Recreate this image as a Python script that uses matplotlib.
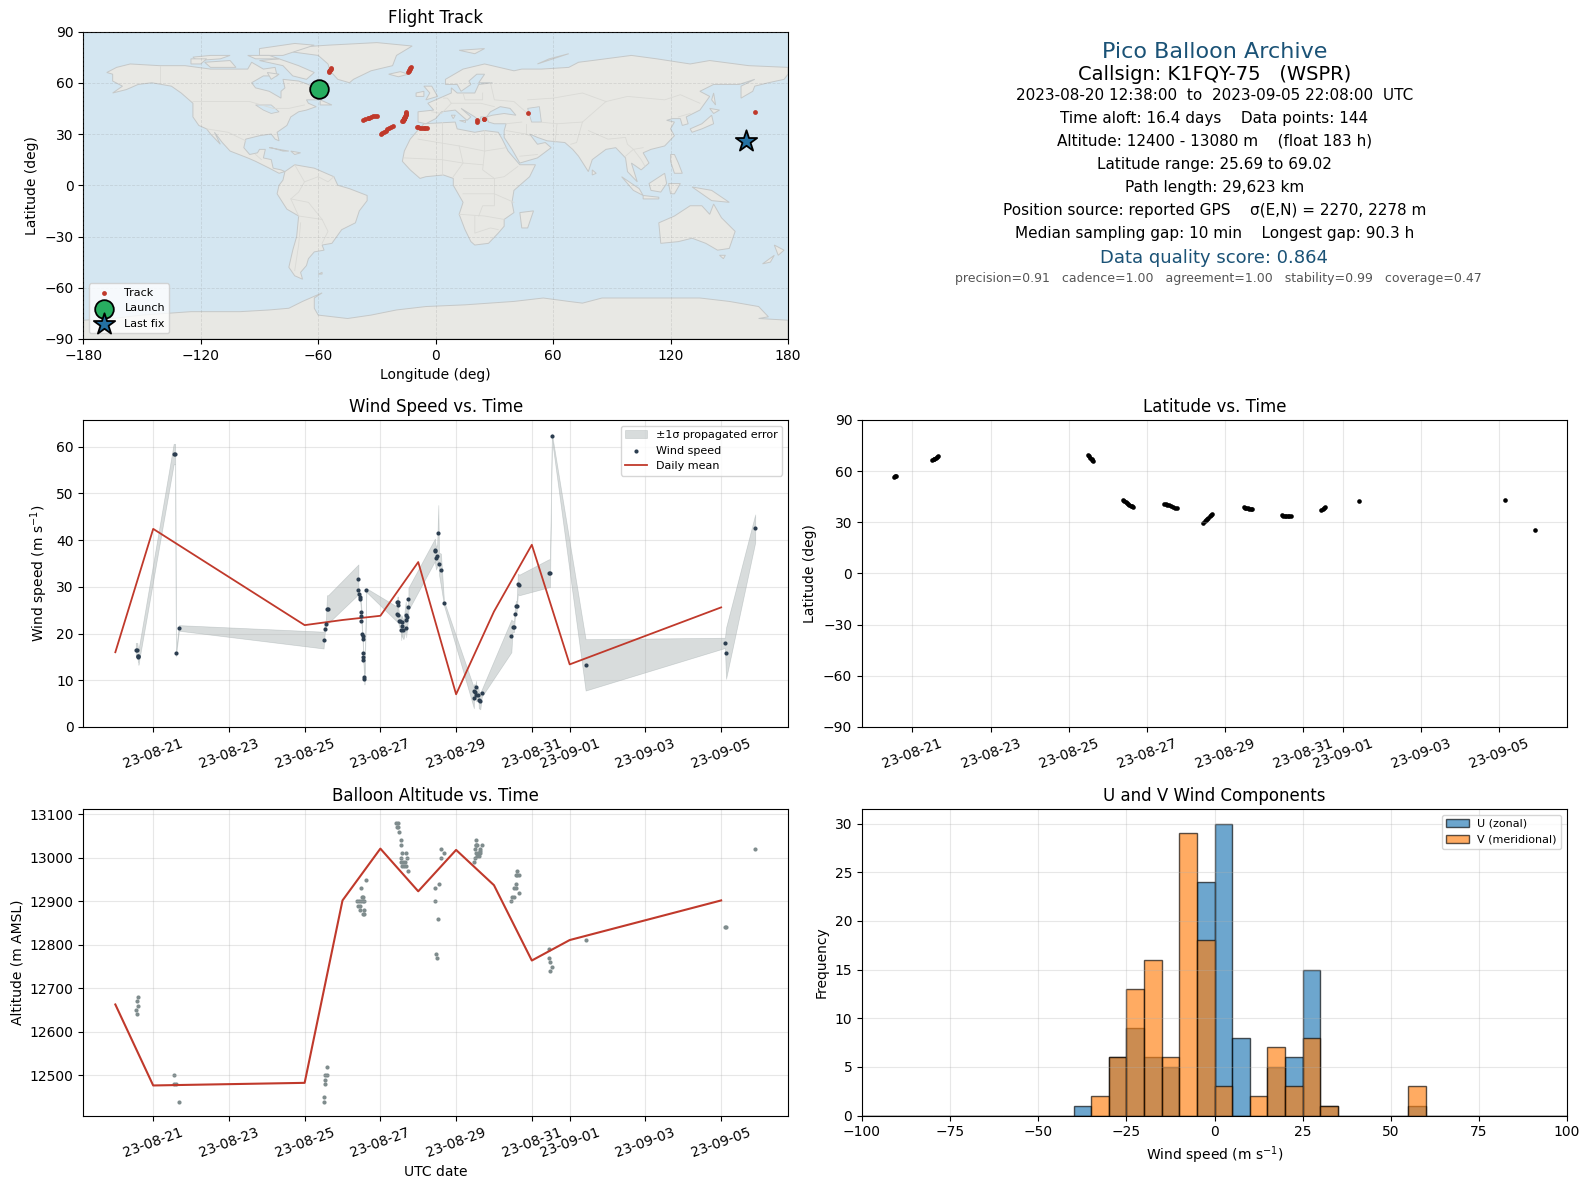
import numpy as np
import matplotlib
matplotlib.use('Agg')
import matplotlib.pyplot as plt
import matplotlib.dates as mdates
from matplotlib.patches import Polygon

W, H = 1590, 1189
START = mdates.date2num(np.datetime64('2023-08-20'))

# land outlines for the basemap (lon, lat)
north_america = [(-168,66),(-163,69),(-156,71),(-141,70),(-128,70),(-115,68),(-108,68),(-96,68),(-94,72),(-88,68),(-82,69),(-81,64),(-88,64),(-94,60),(-92,57),(-85,55),(-82,53),(-79,51),(-79,55),(-77,57),(-78,62),(-70,61),(-65,59),(-60,55),(-56,52),(-60,50),(-66,50),(-65,48),(-61,46),(-66,44),(-70,43),(-74,40),(-76,35),(-81,31),(-80,26),(-82,27),(-84,30),(-90,29),(-97,27),(-98,22),(-95,18),(-91,19),(-90,21),(-87,21),(-88,16),(-84,15),(-83,10),(-79,9),(-77,8),(-80,7),(-85,10),(-92,14),(-96,16),(-105,20),(-109,25),(-113,31),(-110,24),(-115,30),(-117,33),(-121,35),(-124,40),(-124,48),(-130,54),(-135,58),(-145,60),(-152,59),(-158,56),(-165,54),(-160,58),(-165,61),(-165,65)]
south_america = [(-77,8),(-72,12),(-62,10),(-52,5),(-50,0),(-44,-2),(-35,-6),(-35,-9),(-39,-15),(-41,-22),(-48,-26),(-53,-34),(-58,-35),(-57,-38),(-62,-39),(-65,-43),(-66,-47),(-69,-51),(-68,-55),(-72,-53),(-75,-48),(-73,-38),(-71,-30),(-70,-18),(-76,-14),(-81,-5),(-80,0),(-78,3)]
africa = [(-6,36),(10,37),(11,33),(20,31),(25,32),(32,31),(34,27),(37,20),(43,12),(51,12),(48,5),(40,-3),(39,-10),(40,-16),(35,-20),(35,-24),(32,-28),(27,-34),(20,-35),(18,-33),(15,-26),(12,-17),(14,-10),(9,0),(9,4),(4,6),(-5,5),(-8,4),(-13,9),(-17,14),(-16,20),(-13,27),(-10,31)]
eurasia = [(-9,37),(-9,43),(-1,44),(-4,48),(2,51),(8,54),(8,57),(11,54),(20,54),(22,59),(29,60),(22,60),(25,65),(21,65),(17,61),(18,59),(13,55),(11,59),(5,59),(5,62),(14,68),(25,71),(40,67),(44,68),(54,68),(68,69),(73,72),(80,73),(100,76),(113,74),(130,71),(140,73),(160,70),(180,69),(180,65),(178,62),(170,60),(163,58),(162,55),(156,51),(156,58),(163,62),(155,59),(142,59),(135,55),(140,52),(135,44),(128,40),(129,36),(126,35),(125,39),(121,39),(118,38),(122,37),(120,33),(122,29),(117,23),(110,21),(106,19),(109,13),(105,9),(100,13),(103,2),(98,8),(97,16),(92,22),(87,21),(80,15),(78,8),(73,17),(70,21),(66,25),(57,26),(52,28),(48,30),(52,24),(56,25),(59,22),(52,16),(43,13),(39,21),(35,28),(35,32),(36,36),(30,36),(27,37),(26,40),(29,41),(35,42),(41,41),(38,45),(33,46),(28,43),(26,40),(23,40),(23,37),(20,40),(13,45),(18,40),(16,38),(10,44),(3,43),(0,39),(-5,36)]
greenland = [(-73,78),(-68,81),(-55,82),(-30,83.5),(-12,81.5),(-20,76),(-22,70),(-33,67),(-42,62),(-44,60),(-50,62),(-54,67),(-55,71),(-60,76)]
antarctica = [(-180,-79),(-165,-78),(-150,-76),(-125,-74),(-100,-74),(-85,-73),(-75,-72),(-68,-68),(-58,-63),(-62,-66),(-62,-72),(-60,-76),(-45,-78),(-33,-76),(-20,-73),(-5,-71),(15,-70),(40,-68),(55,-66),(68,-68),(75,-69),(85,-66),(110,-66),(135,-66),(150,-68),(165,-71),(170,-77),(165,-78),(180,-79),(180,-90),(-180,-90)]
australia = [(114,-22),(122,-18),(130,-12),(136,-12),(140,-17),(142,-11),(146,-19),(153,-27),(150,-37),(144,-38),(138,-34),(131,-31),(124,-33),(115,-34)]
islands = [
    [(-90,73),(-80,74),(-70,70),(-62,66),(-66,62),(-73,64),(-78,70)],
    [(-90,80),(-72,83),(-62,82),(-78,76),(-90,76)],
    [(-118,72),(-105,73),(-102,69),(-115,69)],
    [(-124,75),(-115,76),(-105,76),(-110,74),(-122,73)],
    [(-125,74),(-117,74),(-120,71),(-125,71)],
    [(-96,76),(-85,76),(-80,74),(-92,74)],
    [(-86,66),(-80,65),(-84,62)],
    [(-24,65),(-18,66.5),(-14,65),(-19,63.5)],
    [(-6,58),(-2,58),(1,52),(-5,50),(-3,54)],
    [(-10,54),(-6,55),(-6,52),(-10,52)],
    [(-85,22),(-75,20),(-78,20),(-84,22)],
    [(-74,20),(-69,19),(-72,18)],
    [(-59,50),(-53,47),(-59,47)],
    [(12,79),(25,80),(20,77)],
    [(52,71),(68,77),(58,74)],
    [(130,33),(136,36),(141,41),(142,36),(136,33),(131,31)],
    [(140,45),(145,44),(142,42)],
    [(142,54),(143,47),(141,50)],
    [(43,-16),(50,-15),(47,-25),(44,-25)],
    [(80,9),(82,7),(80,6)],
    [(95,5),(104,-2),(106,-6),(101,-3)],
    [(106,-6),(114,-7),(114,-8),(106,-8)],
    [(109,1),(117,7),(118,1),(115,-4),(110,-3)],
    [(119,1),(125,1),(122,-5),(120,-5)],
    [(120,18),(122,18),(124,13),(126,7),(122,7),(120,14)],
    [(131,-1),(141,-3),(150,-10),(141,-9),(136,-5)],
    [(173,-35),(178,-38),(175,-41)],
    [(167,-46),(173,-41),(171,-45)],
    [(145,-41),(148,-41),(147,-43)],
    [(-60,-52),(-58,-51),(-58,-52)],
    [(8,41),(10,41),(9,39)],
    [(12,38),(15,38),(15,37)],
]
inland_water = [[(47,45),(53,46),(54,37),(49,37)], [(-92,47),(-84,47),(-80,43),(-84,42),(-88,44)]]
borders = [
    [(-141,70),(-141,60)], [(-124,49),(-95,49),(-83,45),(-75,45),(-67,47)], [(-117,33),(-106,31),(-97,26)],
    [(-92,18),(-89,15)], [(-72,12),(-67,2),(-70,-4),(-74,-8),(-70,-18)], [(-60,5),(-67,2)], [(-70,-18),(-58,-20),(-55,-27),(-58,-34)],
    [(-69,-22),(-70,-35),(-72,-50)], [(-58,-20),(-65,-10),(-74,-8)], [(-52,5),(-55,2),(-60,5)],
    [(-9,27),(12,23),(25,20),(36,22)], [(25,32),(25,20),(24,9),(30,4),(35,5),(42,11)], [(-16,16),(3,15),(14,13),(24,12)],
    [(3,37),(3,15),(3,6)], [(12,23),(14,13),(9,5)], [(14,-5),(30,-5),(40,-10)], [(12,-17),(25,-18),(35,-20)], [(20,-18),(20,-28),(28,-25),(32,-26)],
    [(30,4),(30,-12),(24,-12),(22,-18)], [(14,4),(18,4),(30,4)],
    [(-2,43),(3,42),(8,48),(6,51),(4,51)], [(8,48),(13,48),(17,48),(23,48),(30,46)], [(14,54),(15,50),(24,50),(24,54)],
    [(28,60),(30,50),(40,49),(47,42)], [(47,50),(60,51),(75,54),(87,49)], [(87,49),(98,52),(117,50),(125,53),(135,48)],
    [(87,49),(80,42),(75,37),(62,36),(53,37)], [(75,37),(72,25),(69,24)], [(61,25),(62,36)], [(78,32),(88,27),(97,28),(98,24),(101,21),(106,22)],
    [(46,36),(46,30)], [(36,32),(46,30),(48,29)], [(44,37),(36,36)], [(52,18),(43,17)], [(97,17),(101,21),(105,15),(107,11)], [(124,40),(130,42)],
]

# flight fixes: days since 2023-08-20 00:00
lat_days = [0.53,0.55,0.57,1.51,1.54,1.56,1.60,1.63,1.66,5.49,5.52,5.55,5.58,5.60,5.63,6.39,6.42,6.45,6.48,6.52,6.55,6.58,6.61,6.65,7.44,7.48,7.52,7.57,7.62,7.67,7.72,7.77,8.44,8.47,8.50,8.53,8.56,8.60,8.63,8.66,9.47,9.50,9.54,9.58,9.62,9.65,9.68,10.45,10.48,10.52,10.56,10.60,10.64,10.67,11.46,11.49,11.52,11.54,12.43,16.15,16.92]
lat_values = [56.6,56.9,57.2,66.3,66.9,67.2,67.6,68.3,68.6,69.2,68.7,68.0,67.3,66.7,66.1,43.1,42.5,41.9,41.2,40.6,40.1,39.7,39.4,39.2,40.8,40.6,40.4,40.0,39.6,39.1,38.6,38.2,29.8,30.6,31.4,32.0,32.8,33.6,34.3,34.9,38.8,38.6,38.5,38.2,38.0,37.8,37.6,34.1,34.0,33.8,33.7,33.6,33.5,33.5,37.3,38.0,38.6,39.0,42.4,43.0,25.7]
track_lon = [-59.8,-59.5,-59.2,-54.6,-54.4,-54.2,-54.0,-53.7,-53.4,-12.8,-13.0,-13.3,-13.5,-13.7,-14.0,-15.0,-15.1,-15.2,-15.4,-15.5,-15.7,-15.8,-16.0,-16.1,-30.0,-30.9,-31.8,-32.8,-33.8,-34.8,-35.9,-37.0,-28.0,-27.2,-26.4,-25.6,-24.7,-23.9,-23.0,-22.0,-16.0,-16.2,-16.4,-16.6,-16.7,-16.9,-17.0,-9.6,-8.8,-7.9,-7.0,-6.1,-5.2,-4.3,21.0,21.0,24.6,24.6,47.0,163.0,158.5]
launch = [-59.5, 56.5]
last_fix = [158.5, 25.7]

wind_days = [0.54,0.58,0.60,0.61,0.61,1.54,1.58,1.60,1.68,5.50,5.53,5.56,5.59,5.62,6.42,6.42,6.44,6.45,6.47,6.50,6.50,6.50,6.52,6.53,6.53,6.55,6.55,6.55,6.58,6.58,6.63,7.43,7.45,7.47,7.47,7.47,7.50,7.53,7.55,7.56,7.56,7.61,7.67,7.68,7.68,7.71,7.74,7.74,8.44,8.44,8.47,8.50,8.53,8.55,8.60,8.68,9.47,9.47,9.50,9.53,9.53,9.59,9.60,9.64,9.68,10.46,10.49,10.53,10.55,10.58,10.60,10.63,10.67,11.45,11.48,11.53,12.42,16.10,16.13,16.90]
wind_speed = [16.5,16.5,15.2,15.2,14.9,58.4,58.4,15.8,21.2,18.6,21.0,22.1,25.2,25.2,31.6,29.3,28.4,27.9,27.4,24.6,23.7,22.7,20.0,19.4,18.9,15.8,15.0,14.3,10.8,10.3,29.3,24.2,26.7,26.7,26.2,24.0,22.7,22.7,20.8,22.5,21.7,20.8,23.9,23.0,21.2,23.5,25.7,27.4,37.9,37.6,36.1,36.7,41.5,34.9,33.6,26.5,6.2,7.8,7.5,8.5,6.9,6.9,5.8,5.6,7.3,19.5,21.5,21.5,24.2,25.8,25.8,30.6,30.4,32.9,32.9,62.2,13.3,18.0,15.8,42.5]
wind_err = [1.5,1.5,1.4,1.4,1.6,2.2,2.2,0.7,0.6,1.8,1.0,1.0,3.0,3.0,3.2,0.8,0.8,0.8,0.8,0.6,0.6,0.6,0.7,0.7,0.7,0.6,0.6,0.6,1.2,1.2,0.4,1.6,1.2,1.2,1.2,1.6,1.4,1.4,2.2,1.4,2.2,2.0,3.0,2.0,2.0,2.0,2.0,2.4,2.4,2.4,2.4,2.4,6.0,2.4,3.5,0.5,2.2,1.4,1.4,1.4,1.4,1.4,1.8,1.8,0.8,3.5,1.2,1.2,1.0,1.2,1.2,2.2,2.2,3.0,3.0,0.6,5.5,1.1,5.5,3.0]

mean_days = [0,1,5,6,7,8,9,10,11,12,16]
wind_daily = [16.0,42.4,21.8,22.9,23.8,35.3,7.0,24.7,39.0,13.4,25.6]
alt_daily = [12663,12477,12483,12902,13021,12923,13018,12937,12764,12811,12902]

alt_days = [0.61,0.58,0.61,0.55,0.58,1.55,1.55,1.60,1.68,5.58,5.55,5.60,5.53,5.55,5.50,5.50,6.63,6.50,6.52,6.54,6.39,6.44,6.48,6.53,6.57,6.42,6.46,6.45,6.58,6.55,6.58,7.42,7.47,7.45,7.47,7.50,7.55,7.55,7.58,7.68,7.55,7.71,7.55,7.60,7.66,7.58,7.63,7.68,7.74,8.60,8.68,8.60,8.55,8.45,8.45,8.53,8.47,8.50,9.53,9.52,9.53,9.56,9.68,9.50,9.63,9.63,9.53,9.58,9.63,9.50,9.56,9.61,9.47,10.60,10.58,10.62,10.67,10.58,10.53,10.58,10.67,10.47,10.53,10.45,11.45,11.45,11.47,11.53,11.47,12.42,16.10,16.13,16.90]
alt_values = [12680,12670,12660,12650,12640,12500,12480,12480,12440,12520,12500,12500,12490,12480,12450,12440,12950,12930,12910,12910,12900,12900,12900,12900,12900,12890,12890,12880,12880,12870,12870,13080,13080,13070,13070,13060,13040,13030,13010,13010,13000,13000,12990,12990,12990,12980,12980,12980,12970,13020,13010,13000,12940,12930,12900,12860,12780,12770,13040,13030,13030,13030,13030,13020,13020,13015,13010,13010,13010,13000,13005,13005,12990,12970,12960,12960,12960,12940,12930,12930,12920,12910,12910,12900,12790,12770,12760,12750,12740,12810,12840,12840,13020]

hist_edges = list(range(-100, 105, 5))
u_left = [-40,-30,-25,-20,-15,-5,0,5,15,20,25,30,55]
u_count = [1,6,9,6,5,24,30,8,5,6,15,1,1]
v_left = [-35,-30,-25,-20,-15,-10,-5,0,10,15,20,25,30,55]
v_count = [2,6,13,16,6,29,18,3,2,7,3,8,1,3]

info_lines = [
    ('Pico Balloon Archive', 16, '#1a5276', 1214.5, 51),
    ('Callsign: K1FQY-75   (WSPR)', 14, 'black', 1214.5, 73),
    ('2023-08-20 12:38:00  to  2023-09-05 22:08:00  UTC', 11, 'black', 1214.5, 94),
    ('Time aloft: 16.4 days    Data points: 144', 11, 'black', 1214.5, 117),
    ('Altitude: 12400 - 13080 m    (float 183 h)', 11, 'black', 1214.5, 139.5),
    ('Latitude range: 25.69 to 69.02', 11, 'black', 1214.5, 162),
    ('Path length: 29,623 km', 11, 'black', 1214.5, 185),
    ('Position source: reported GPS    σ(E,N) = 2270, 2278 m', 11, 'black', 1214.5, 207.5),
    ('Median sampling gap: 10 min    Longest gap: 90.3 h', 11, 'black', 1214.5, 230),
    ('Data quality score: 0.864', 13, '#1a5276', 1214.5, 254.5),
    ('precision=0.91   cadence=1.00   agreement=1.00   stability=0.99   coverage=0.47', 9, '#555555', 1218.5, 275),
]

RED = '#c0392b'
NAVY = '#2c3e50'
GREY = '#7f8c8d'


def panel(left, top, right, bottom, **kw):
    return fig.add_axes([left / W, 1 - bottom / H, (right - left) / W, (bottom - top) / H], **kw)


def dates(days):
    return START + np.array(days, dtype=float)


def style_time(ax):
    ax.xaxis.set_major_locator(mdates.DayLocator(bymonthday=range(1, 32, 2)))
    ax.xaxis.set_major_formatter(mdates.DateFormatter('%y-%m-%d'))
    ax.tick_params(axis='x', labelrotation=20)
    ax.grid(True, alpha=0.3)


fig = plt.figure(figsize=(W / 100, H / 100), dpi=100)

# flight track
ax = panel(83.3, 31.5, 788, 339)
ax.set_facecolor('#d4e6f1')
for shape in [north_america, south_america, africa, eurasia, greenland, antarctica, australia] + islands:
    ax.add_patch(Polygon(shape, closed=True, fc='#e8e8e4', ec='#c5c8c8', lw=0.7, zorder=1))
for shape in inland_water:
    ax.add_patch(Polygon(shape, closed=True, fc='#d4e6f1', ec='#c5c8c8', lw=0.6, zorder=1.1))
for line in borders:
    xs, ys = zip(*line)
    ax.plot(xs, ys, color='#dadad6', lw=0.6, zorder=1.2)
ax.scatter(track_lon, lat_values, s=12, lw=0, color=RED, zorder=4, label='Track')
ax.scatter(*launch, s=180, color='#27ae60', edgecolor='black', linewidth=1.3, zorder=5, label='Launch')
ax.scatter(*last_fix, s=260, marker='*', color='#2471a3', edgecolor='black', linewidth=1.3, zorder=5, label='Last fix')
ax.set_xlim(-180, 180)
ax.set_ylim(-90, 90)
ax.set_xticks(range(-180, 181, 60))
ax.set_yticks(range(-90, 91, 30))
ax.grid(True, alpha=0.2, ls='--', lw=0.6, color='gray')
ax.set_axisbelow(False)
ax.set_xlabel('Longitude (deg)')
ax.set_ylabel('Latitude (deg)')
ax.set_title('Flight Track', fontsize=12)
ax.legend(loc='lower left', fontsize=8)

# summary text
for text, size, color, x, y in info_lines:
    fig.text(x / W, 1 - y * 1.014 / H, text, fontsize=size, color=color, ha='center', va='center')

# wind speed
ax_wind = panel(83.3, 420, 788, 727)
wind = np.array(wind_speed)
err = np.array(wind_err)
ax_wind.fill_between(dates(wind_days), wind - err, wind + err, color=GREY, alpha=0.3, lw=0.5, label='±1σ propagated error')
ax_wind.scatter(dates(wind_days), wind, s=9, lw=0, color=NAVY, zorder=3, label='Wind speed')
ax_wind.plot(dates(mean_days), wind_daily, color=RED, lw=1.3, label='Daily mean')
ax_wind.set_ylim(0, 65.7)
ax_wind.set_ylabel('Wind speed (m s$^{-1}$)')
ax_wind.set_title('Wind Speed vs. Time', fontsize=12)
ax_wind.legend(loc='upper right', fontsize=8)
style_time(ax_wind)

# latitude
ax_lat = panel(862, 420, 1567, 727)
ax_lat.scatter(dates(lat_days), lat_values, s=11, lw=0, color='black')
ax_lat.set_ylim(-90, 90)
ax_lat.set_yticks(range(-90, 91, 30))
ax_lat.set_ylabel('Latitude (deg)')
ax_lat.set_title('Latitude vs. Time', fontsize=12)
style_time(ax_lat)

# altitude
ax_alt = panel(83.3, 809, 788, 1115.5, sharex=ax_wind)
ax_alt.scatter(dates(alt_days), alt_values, s=9, lw=0, color=GREY)
ax_alt.plot(dates(mean_days), alt_daily, color=RED, lw=1.5)
ax_alt.set_ylim(12408, 13112)
ax_alt.set_xlabel('UTC date')
ax_alt.set_ylabel('Altitude (m AMSL)')
ax_alt.set_title('Balloon Altitude vs. Time', fontsize=12)
style_time(ax_alt)

# wind components
ax_hist = panel(862, 809, 1567, 1115.5)
ax_hist.hist(u_left, bins=hist_edges, weights=u_count, color='#1f77b4', alpha=0.65, edgecolor='black', label='U (zonal)')
ax_hist.hist(v_left, bins=hist_edges, weights=v_count, color='#ff7f0e', alpha=0.65, edgecolor='black', label='V (meridional)')
ax_hist.set_xlim(-100, 100)
ax_hist.set_xlabel('Wind speed (m s$^{-1}$)')
ax_hist.set_ylabel('Frequency')
ax_hist.set_title('U and V Wind Components', fontsize=12)
ax_hist.legend(loc='upper right', fontsize=8)
ax_hist.grid(True, alpha=0.3)

ax_wind.set_xlim(START - 0.846, START + 16.92 + 0.846)
fig.savefig('out.png', dpi=100)
